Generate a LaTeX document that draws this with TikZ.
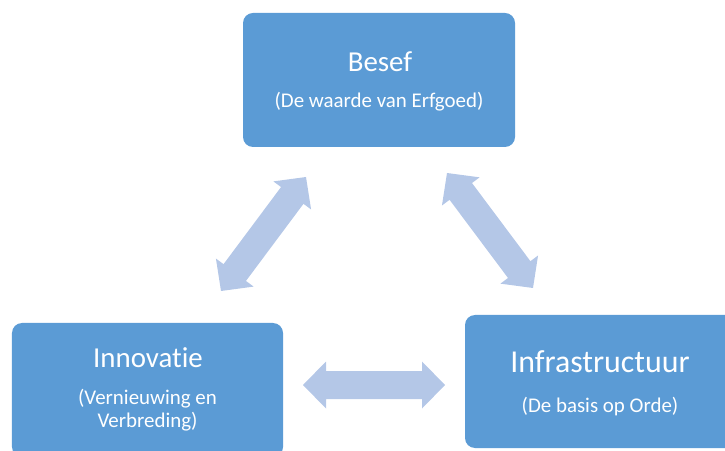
\documentclass[tikz,border=0pt]{standalone}
\usepackage{fontspec}
\setmainfont{Carlito}[Ligatures=NoCommon]
\usepackage{xcolor}
\usetikzlibrary{calc}

\definecolor{boxblue}{HTML}{5B9BD5}
\definecolor{arrowblue}{HTML}{B4C7E7}

\tikzset{
  box/.style={fill=boxblue, rounded corners=10bp, inner sep=0pt},
  head/.style={text=white, font=\fontsize{29}{29}\selectfont},
  sub/.style={text=white, font=\fontsize{21}{23}\selectfont, align=center},
}

% block arrow with a head at both ends
\newcommand{\blockarrow}[2]{%
  \coordinate (h1) at ($(#1)!23bp!(#2)$);
  \coordinate (h2) at ($(#2)!23bp!(#1)$);
  \fill[arrowblue] (#1)
    -- ($(h1)!23.5bp!90:(#2)$) -- ($(h1)!14bp!90:(#2)$)
    -- ($(h2)!14bp!-90:(#1)$) -- ($(h2)!23.5bp!-90:(#1)$)
    -- (#2)
    -- ($(h2)!23.5bp!90:(#1)$) -- ($(h2)!14bp!90:(#1)$)
    -- ($(h1)!14bp!-90:(#2)$) -- ($(h1)!23.5bp!-90:(#2)$)
    -- cycle;%
}

\begin{document}
\begin{tikzpicture}[x=1bp, y=-1bp]
  \useasboundingbox (0,0) rectangle (725,451);
  \clip (0,0) rectangle (725,451);

  % Draw the three boxes
  \node[box, minimum width=272bp, minimum height=134bp] (besef) at (379,80) {};
  \node[box, minimum width=271bp, minimum height=134bp] (innov) at (147.5,390) {};
  \node[box, minimum width=270bp, minimum height=133bp] (infra) at (600,381.5) {};

  % Titles and subtitles
  \node[head] (besef-t) at (380,62) {Besef};
  \node[sub] (besef-s) at (379,102) {(De waarde van Erfgoed)};
  \node[head] (innov-t) at (148,358) {Innovatie};
  \node[sub] (innov-s) at (147.5,410.5) {(Vernieuwing en\\Verbreding)};
  \node[head, font=\fontsize{32}{32}\selectfont] (infra-t) at (600,362) {Infrastructuur};
  \node[sub] (infra-s) at (600,407) {(De basis op Orde)};

  % Ends of the arrows
  \coordinate (besef-in) at (306,177);
  \coordinate (innov-be) at (221,291);
  \coordinate (besef-inf) at (447,173);
  \coordinate (infra-be) at (533,288);
  \coordinate (innov-inf) at (303,385);
  \coordinate (infra-in) at (445,385);

  \blockarrow{innov-be}{besef-in}
  \blockarrow{besef-inf}{infra-be}
  \blockarrow{innov-inf}{infra-in}
\end{tikzpicture}
\end{document}
